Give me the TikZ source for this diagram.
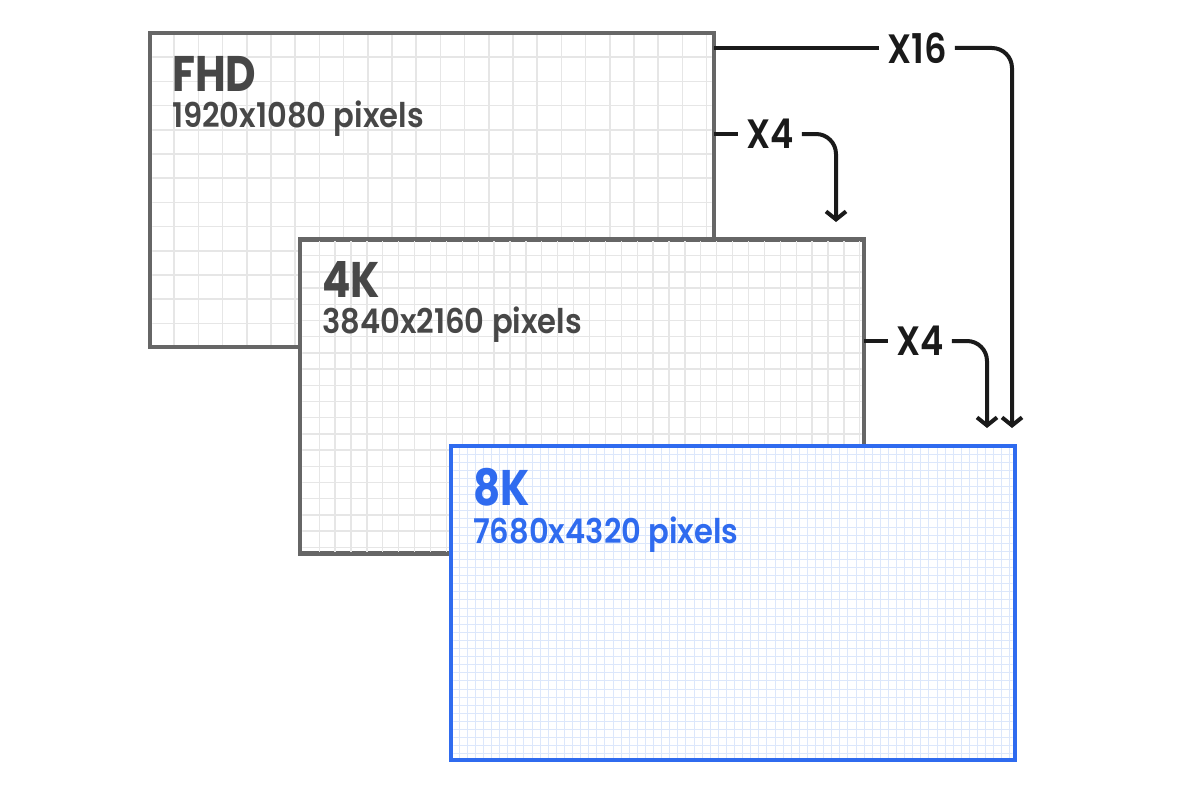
\documentclass[tikz,border=0pt]{standalone}
\usepackage{fontspec}
\setmainfont{Poppins}
\newfontfamily\titlefont[FakeStretch=0.84]{Poppins Bold}
\newfontfamily\subfont[FakeStretch=0.9]{Poppins SemiBold}
\newfontfamily\labfont[FakeStretch=0.86]{Poppins SemiBold}
\usetikzlibrary{calc,arrows.meta}
\definecolor{boxgray}{HTML}{666666}
\definecolor{txtgray}{HTML}{474747}
\definecolor{gridgray}{HTML}{E6E6E6}
\definecolor{sblue}{HTML}{2F6BEF}
\definecolor{gridblue}{HTML}{DCE7FB}
\definecolor{arrowblack}{HTML}{1A1A1A}
\tikzset{
  screen/.style={draw=boxgray, fill=white, line width=4.5pt, minimum width=564pt, minimum height=314pt, inner sep=0pt, outer sep=0pt, rectangle},
  bluescreen/.style={screen, draw=sblue},
  title/.style={anchor=base west, inner sep=0pt, text=txtgray, font=\titlefont\fontsize{50}{50}\selectfont},
  subtitle/.style={anchor=base west, inner sep=0pt, text=txtgray, font=\subfont\fontsize{34}{34}\selectfont},
  lab/.style={inner xsep=8pt, inner ysep=0pt, text=arrowblack, font=\labfont\fontsize{41}{41}\selectfont},
  link/.style={draw=arrowblack, line width=4pt},
  arr/.style={link, rounded corners=20pt, -{Straight Barb[length=8pt,width=20pt]}},
}
\begin{document}
\begin{tikzpicture}[x=1pt,y=-1pt]
\useasboundingbox (0,0) rectangle (1200,800);

% FHD
\node[screen] (fhd) at (432,190) {};
\begin{scope}
  \clip ($(fhd.north west)+(2.4,2.4)$) rectangle ($(fhd.south east)-(2.4,2.4)$);
  \foreach \i in {1,...,23} \draw[gridgray, line width=1.5pt] ($(fhd.north west)+(24.2*\i,0)$) -- ++(0,320);
  \foreach \i in {1,...,13} \draw[gridgray, line width=1.5pt] ($(fhd.north west)+(0,24.2*\i)$) -- ++(570,0);
\end{scope}
\node[title] (fhdt) at ($(fhd.north west)+(22,59)$) {FHD};
\node[subtitle] (fhds) at ($(fhd.north west)+(22,95)$) {1920x1080 pixels};

% 4K
\node[screen] (uhd) at (582,396.5) {};
\begin{scope}
  \clip ($(uhd.north west)+(2.4,2.4)$) rectangle ($(uhd.south east)-(2.4,2.4)$);
  \foreach \i in {1,...,35} \draw[gridgray, line width=1.3pt] ($(uhd.north west)+(3.3+15.9*\i,0)$) -- ++(0,320);
  \foreach \i in {1,...,19} \draw[gridgray, line width=1.3pt] ($(uhd.north west)+(0,16.2*\i)$) -- ++(570,0);
\end{scope}
\node[title] (uhdt) at ($(uhd.north west)+(22,58)$) {4K};
\node[subtitle] (uhds) at ($(uhd.north west)+(22,94)$) {3840x2160 pixels};

% 8K
\node[bluescreen] (ehd) at (733,603) {};
\begin{scope}
  \clip ($(ehd.north west)+(2.4,2.4)$) rectangle ($(ehd.south east)-(2.4,2.4)$);
  \foreach \i in {1,...,70} \draw[gridblue, line width=1pt] ($(ehd.north west)+(8.1*\i,0)$) -- ++(0,320);
  \foreach \i in {1,...,39} \draw[gridblue, line width=1pt] ($(ehd.north west)+(0,8.1*\i)$) -- ++(570,0);
\end{scope}
\node[title, text=sblue] (ehdt) at ($(ehd.north west)+(22,59)$) {8K};
\node[subtitle, text=sblue] (ehds) at ($(ehd.north west)+(22,97)$) {7680x4320 pixels};

% connectors
\node[lab] (x16) at (917,48) {X16};
\node[lab] (x4a) at (770,134) {X4};
\node[lab] (x4b) at (920,341) {X4};
\coordinate (t16) at (1012,428);
\coordinate (t4a) at (836,222);
\coordinate (t4b) at (987,428);

\draw[link] (fhd.east |- x16.west) -- (x16.west);
\draw[arr] (x16.east) -| (t16);
\draw[link] (fhd.east |- x4a.west) -- (x4a.west);
\draw[arr] (x4a.east) -| (t4a);
\draw[link] (uhd.east |- x4b.west) -- (x4b.west);
\draw[arr] (x4b.east) -| (t4b);
\end{tikzpicture}
\end{document}
